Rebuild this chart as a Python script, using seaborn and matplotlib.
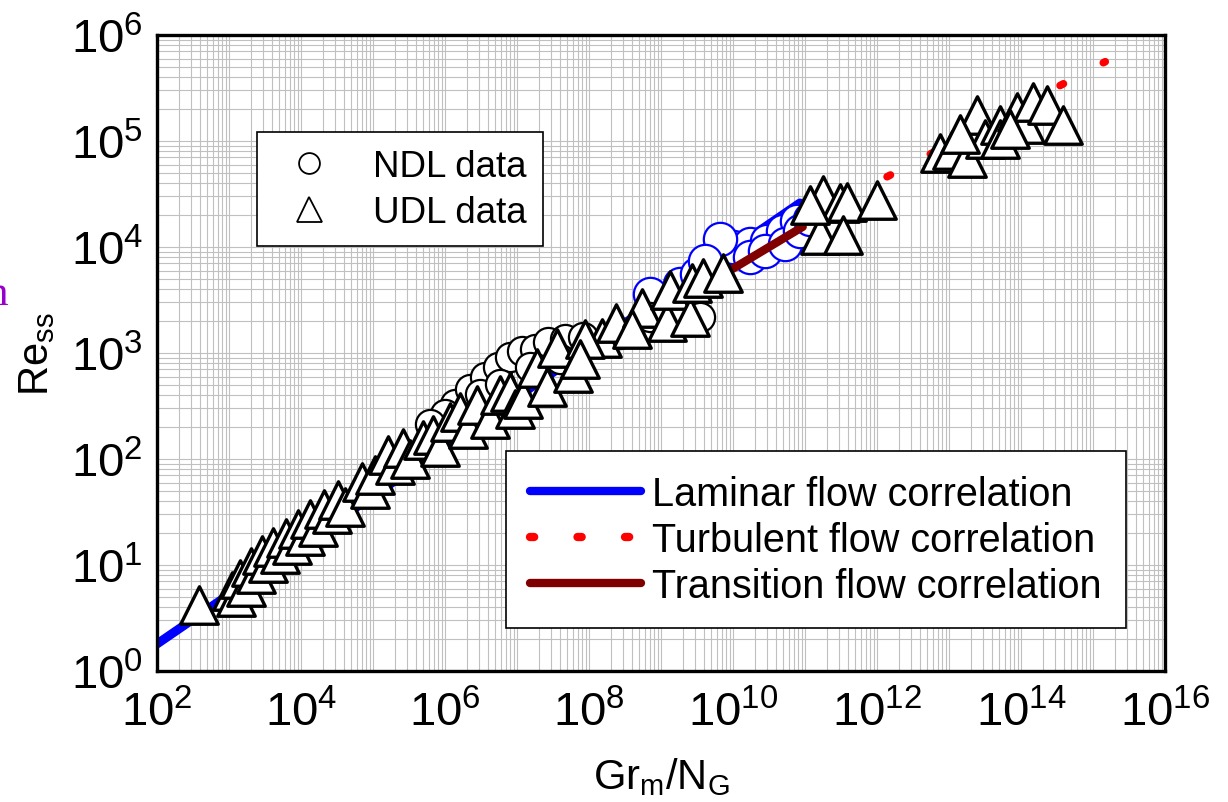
import numpy as np
import matplotlib
matplotlib.use("Agg")
import matplotlib.pyplot as plt
from matplotlib.lines import Line2D
from matplotlib.ticker import LogLocator, FixedLocator, LogFormatterSciNotation, NullFormatter
import seaborn as sns
import pandas as pd

# ---------------- data ----------------
udl_x = [3.8e2, 1.1e3, 1.25e3, 1.4e3, 1.7e3, 2.0e3, 2.4e3, 2.9e3, 3.5e3, 4.1e3,
         5.1e3, 6.2e3, 7.5e3, 9.1e3, 1.14e4, 1.33e4, 1.72e4, 2.1e4, 2.7e4, 3.3e4,
         4.1e4, 7.0e4, 9.1e4, 1.07e5, 1.6e5, 2.0e5, 2.6e5, 3.3e5, 4.9e5, 6.8e5,
         8.5e5, 1.17e6, 1.6e6, 2.1e6, 2.8e6, 4.2e6, 5.8e6, 8.0e6, 9.4e6, 1.2e7,
         1.9e7, 2.6e7, 3.6e7, 6.0e7, 1.5e8, 2.4e8, 5.4e8, 1.21e9, 1.33e9, 2.5e9,
         2.7e9, 3.8e9, 7.3e9, 4.0e8, 8.8e7, 7.5e7,
         1.78e11, 3.1e11, 3.8e11, 1.0e12, 1.6e11, 3.4e11, 1.17e11,
         7.5e12, 1.1e13, 1.78e13, 2.45e13, 3.2e13, 5.1e13, 5.1e13, 8.8e13, 1.14e14,
         1.47e14, 2.3e14, 3.8e14, 1.42e13, 7.0e13]
udl_y = [4.2, 5.7, 5.0, 7.4, 6.2, 9.6, 8.2, 12.4, 10.4, 14.8,
         12.7, 18.0, 15.5, 21.9, 18.8, 27.0, 23.0, 34.0, 30.0, 41.0,
         35.0, 61.0, 52.0, 71.0, 109.0, 88.0, 127.0, 100.0, 151.0, 168.0,
         130.0, 223.0, 277.0, 192.0, 323.0, 238.0, 402.0, 429.0, 297.0, 368.0,
         721.0, 478.0, 1.11e3, 647.0, 1.39e3, 1.92e3, 2.66e3, 1.96e3, 3.93e3, 2.19e3,
         4.57e3, 5.1e3, 5.7e3, 1.68e3, 1.36e3, 877.0,
         3.1e4, 2.6e4, 2.66e4, 2.77e4, 1.3e4, 1.3e4, 2.5e4,
         7.7e4, 8.2e4, 6.9e4, 1.76e5, 1.04e5, 1.42e5, 1.04e5, 1.88e5, 1.45e5,
         2.33e5, 2.19e5, 1.42e5, 1.16e5, 1.3e5]

ndl_x = [1.38e6, 2.2e6, 3.6e6, 5.4e6, 8.0e6, 1.17e7, 1.78e7, 2.7e7, 4.6e7, 8.3e7,
         1.0e6, 3.1e6, 5.8e6, 1.5e7, 4.0e7, 2.7e8, 7.0e8, 3.5e9, 6.2e5]
ndl_y = [330.0, 457.0, 594.0, 738.0, 917.0, 1.04e3, 1.09e3, 1.27e3, 1.36e3, 1.42e3,
         266.0, 410.0, 510.0, 738.0, 877.0, 1.51e3, 2.19e3, 2.19e3, 214.0]

ndl_blue_x = [7.0e8, 1.84e9, 3.2e9, 6.0e9, 1.0e10, 1.72e10, 3.0e10, 4.9e10, 7.7e10,
              1.72e10, 2.8e10, 5.3e10, 8.5e10, 1.17e11, 6.6e9, 4.1e9]
ndl_blue_y = [3.6e3, 4.5e3, 5.6e3, 8.6e3, 1.0e4, 1.07e4, 1.14e4, 1.42e4, 1.76e4,
              8.1e3, 9.2e3, 1.07e4, 1.42e4, 1.84e4, 1.19e4, 7.4e3]

laminar_x = [1.0e2, 8.5e10]
laminar_y = [1.8, 2.6e4]
turbulent_x = [1.38e12, 1.48e15]
turbulent_y = [4.6e4, 5.6e5]
transition_x = [9.8e9, 9.3e10]
transition_y = [6.2e3, 1.55e4]

x_ticks = [1e2, 1e4, 1e6, 1e8, 1e10, 1e12, 1e14, 1e16]
y_ticks = [1e0, 1e1, 1e2, 1e3, 1e4, 1e5, 1e6]

legend1_labels = ["NDL data", "UDL data"]
legend2_labels = ["Laminar flow correlation", "Turbulent flow correlation",
                  "Transition flow correlation"]

# ---------------- style ----------------
sns.set_style("white")
plt.rcParams["font.family"] = ["Liberation Sans", "DejaVu Sans"]
plt.rcParams["mathtext.fontset"] = "custom"
plt.rcParams["mathtext.rm"] = "Liberation Sans"
plt.rcParams["mathtext.it"] = "Liberation Sans:italic"
plt.rcParams["mathtext.bf"] = "Liberation Sans:bold"
for k in ["text.color", "axes.labelcolor", "xtick.color", "ytick.color"]:
    plt.rcParams[k] = "black"

fig = plt.figure(figsize=(12.28, 8.03), dpi=100)
ax = fig.add_axes([157 / 1228, 1 - 672 / 803, (1165 - 157) / 1228, (672 - 36) / 803])
ax.set_xscale("log")
ax.set_yscale("log")
ax.set_xlim(1e2, 1e16)
ax.set_ylim(1e0, 1e6)

df_udl = pd.DataFrame({"x": udl_x, "y": udl_y})
df_ndl = pd.DataFrame({"x": ndl_x, "y": ndl_y})
df_blue = pd.DataFrame({"x": ndl_blue_x, "y": ndl_blue_y})

sns.lineplot(x=laminar_x, y=laminar_y, color="blue", linewidth=6.5,
             solid_capstyle="round", zorder=1.5, ax=ax, legend=False)

sns.scatterplot(data=df_blue, x="x", y="y", marker="o", s=24 ** 2, color="white",
                edgecolor="blue", linewidth=1.6, zorder=2, ax=ax, legend=False)
sns.scatterplot(data=df_ndl, x="x", y="y", marker="o", s=21 ** 2, color="white",
                edgecolor="black", linewidth=1.6, zorder=2, ax=ax, legend=False)

sns.lineplot(x=transition_x, y=transition_y, color="#800000", linewidth=6,
             solid_capstyle="round", zorder=3, ax=ax, legend=False)
sns.lineplot(x=turbulent_x, y=turbulent_y, color="red", linewidth=5.5,
             linestyle=(0, (0.5, 5.9)), dash_capstyle="round", zorder=3, ax=ax,
             legend=False)

sns.scatterplot(data=df_udl, x="x", y="y", marker="^", s=27 ** 2, color="white",
                edgecolor="black", linewidth=2.4, zorder=4, ax=ax, legend=False)

# axes / grid
ax.xaxis.set_major_locator(FixedLocator(x_ticks))
ax.yaxis.set_major_locator(FixedLocator(y_ticks))
ax.xaxis.set_major_formatter(LogFormatterSciNotation())
ax.yaxis.set_major_formatter(LogFormatterSciNotation())
ax.xaxis.set_minor_locator(LogLocator(base=10, subs=np.arange(1, 10), numticks=200))
ax.yaxis.set_minor_locator(LogLocator(base=10, subs=np.arange(1, 10), numticks=200))
ax.xaxis.set_minor_formatter(NullFormatter())
ax.yaxis.set_minor_formatter(NullFormatter())
ax.set_axisbelow(True)
ax.grid(True, which="both", color="#c0c0c0", linewidth=0.8)
ax.tick_params(which="both", length=0)
ax.tick_params(axis="x", labelsize=34, pad=14)
ax.tick_params(axis="y", labelsize=34, pad=10)
for sp in ax.spines.values():
    sp.set_linewidth(2.4)
    sp.set_color("black")
    sp.set_visible(True)

ax.set_xlabel(r"Gr$_{\mathrm{m}}$/N$_{\mathrm{G}}$", fontsize=30, labelpad=14)
ax.set_ylabel(r"Re$_{\mathrm{ss}}$", fontsize=30, labelpad=10)

# legends
h1 = [Line2D([], [], linestyle="none", marker="o", markersize=15, markerfacecolor="white",
             markeredgecolor="black", markeredgewidth=1.3),
      Line2D([], [], linestyle="none", marker="^", markersize=18, markerfacecolor="white",
             markeredgecolor="black", markeredgewidth=1.3)]
leg1 = fig.legend(handles=h1, labels=legend1_labels, loc="upper left",
                  bbox_to_anchor=(257 / 1228, 1 - 133 / 803), borderaxespad=0,
                  fontsize=26.5, frameon=True, fancybox=False, handlelength=1.9,
                  handletextpad=0.8, labelspacing=0.3, borderpad=0.45)
leg1.get_frame().set_edgecolor("black")
leg1.get_frame().set_linewidth(1.2)
leg1.get_frame().set_alpha(1)

h2 = [Line2D([], [], color="blue", linewidth=6, solid_capstyle="round"),
      Line2D([], [], color="red", linewidth=6, linestyle=(0, (0.5, 5.2)),
             dash_capstyle="round"),
      Line2D([], [], color="#800000", linewidth=6, solid_capstyle="round")]
leg2 = fig.legend(handles=h2, labels=legend2_labels, loc="upper left",
                  bbox_to_anchor=(506 / 1228, 1 - 452 / 803), borderaxespad=0,
                  fontsize=28.5, frameon=True, fancybox=False, handlelength=2.8,
                  handletextpad=0.3, labelspacing=0.2, borderpad=0.6)
leg2.get_frame().set_edgecolor("black")
leg2.get_frame().set_linewidth(1.2)
leg2.get_frame().set_alpha(1)

# cropped purple glyph at the left edge of the reference
fig.text(9 / 1228, 1 - 305 / 803, "n", color="#9900cc", fontsize=31,
         family="Liberation Serif", ha="right", va="baseline")

fig.savefig("out.png", dpi=100)
